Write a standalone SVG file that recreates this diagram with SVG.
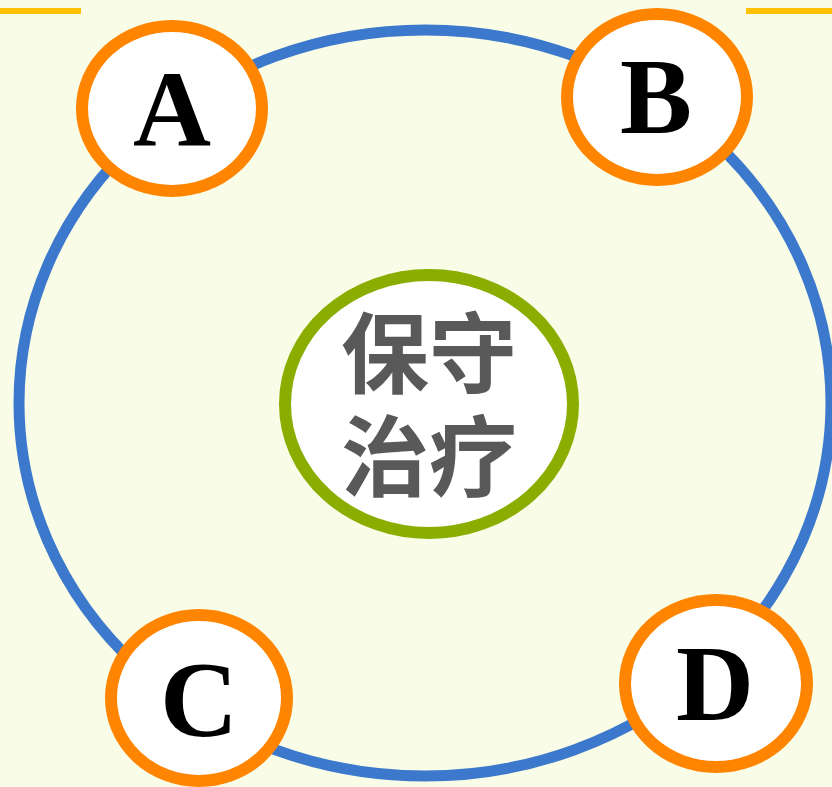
<svg xmlns="http://www.w3.org/2000/svg" width="832" height="787" viewBox="0 0 832 787">
<style>
.bg{fill:#F9FDE7}
.ring{fill:none;stroke:#3C78CC;stroke-width:11}
.node{fill:#FFFFFF;stroke:#FF8400;stroke-width:12}
.center{fill:#FFFFFF;stroke:#8AAD00;stroke-width:12}
.lbl{font-family:"Liberation Serif","Times New Roman",serif;font-weight:bold;font-size:108px;fill:#000000;text-anchor:middle}
.cn{font-family:"Noto Sans CJK SC","Noto Sans",sans-serif;font-weight:bold;font-size:88px;fill:#595959;text-anchor:middle}
.bar{stroke:#FFC000;stroke-width:6}
</style>
<rect class="bg" x="0" y="0" width="832" height="787"/>
<line class="bar" x1="0" y1="11" x2="81" y2="11"/>
<line class="bar" x1="746" y1="11" x2="832" y2="11"/>
<g id="connectors">
<ellipse class="ring" cx="425" cy="403" rx="406" ry="373"/>
</g>
<g id="center">
<ellipse class="center" cx="429" cy="404" rx="144" ry="129"/>
<text class="cn"><tspan x="429" y="386">保守</tspan><tspan x="429" y="489">治疗</tspan></text>
</g>
<g id="nodeA">
<ellipse class="node" cx="172" cy="108.5" rx="90" ry="82.5"/>
<text class="lbl" x="172" y="146">A</text>
</g>
<g id="nodeB">
<ellipse class="node" cx="657" cy="97" rx="90" ry="83"/>
<text class="lbl" x="656" y="133">B</text>
</g>
<g id="nodeC">
<ellipse class="node" cx="199" cy="698" rx="88" ry="83"/>
<text class="lbl" x="199" y="736">C</text>
</g>
<g id="nodeD">
<ellipse class="node" cx="716" cy="683.5" rx="91" ry="83.5"/>
<text class="lbl" x="715" y="720">D</text>
</g>
</svg>
